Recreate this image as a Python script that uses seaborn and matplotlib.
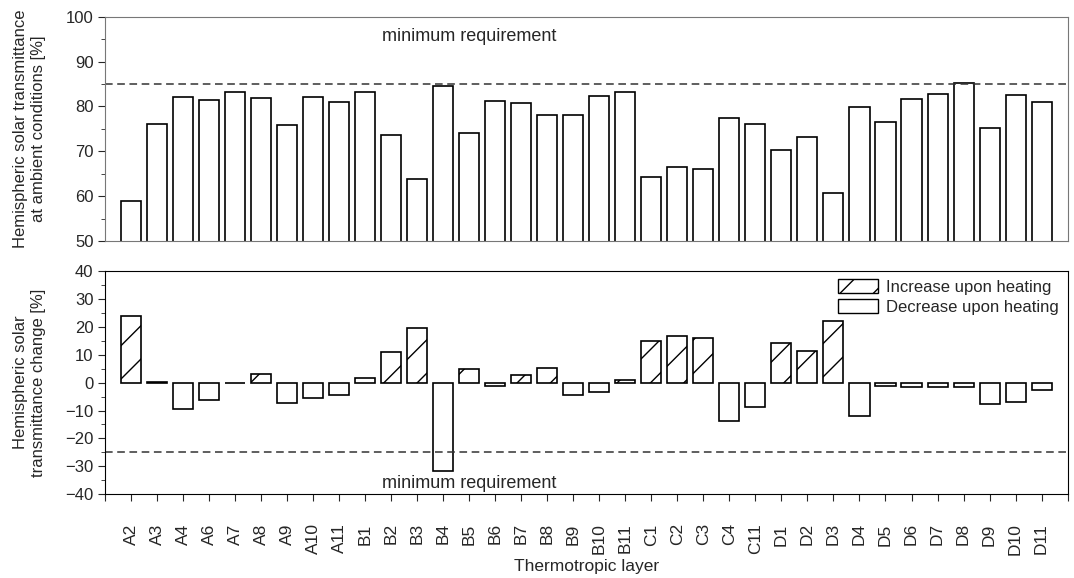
import matplotlib
matplotlib.use('Agg')
import matplotlib.pyplot as plt
from matplotlib.patches import Patch
from matplotlib.ticker import MultipleLocator
import seaborn as sns
import pandas as pd

# Werte
layers = ['A2', 'A3', 'A4', 'A6', 'A7', 'A8', 'A9', 'A10', 'A11',
          'B1', 'B2', 'B3', 'B4', 'B5', 'B6', 'B7', 'B8', 'B9', 'B10', 'B11',
          'C1', 'C2', 'C3', 'C4', 'C11',
          'D1', 'D2', 'D3', 'D4', 'D5', 'D6', 'D7', 'D8', 'D9', 'D10', 'D11']
ambient = [58.9, 76.1, 82.0, 81.5, 83.2, 81.8, 75.8, 82.0, 81.1,
           83.3, 73.6, 63.9, 84.5, 74.1, 81.3, 80.8, 78.2, 78.2, 82.3, 83.2,
           64.2, 66.5, 66.1, 77.5, 76.1,
           70.3, 73.3, 60.8, 79.9, 76.5, 81.6, 82.8, 85.3, 75.2, 82.6, 81.1]
change = [23.8, 0.3, -9.4, -6.2, -0.2, 3.2, -7.4, -5.6, -4.6,
          1.7, 11.1, 19.7, -31.6, 5.0, -1.1, 2.7, 5.3, -4.5, -3.5, 0.9,
          14.8, 16.9, 16.1, -13.7, -8.6,
          14.2, 11.3, 22.2, -12.1, -1.2, -1.7, -1.7, -1.4, -7.6, -7.1, -2.5]
req_top = 85
req_bottom = -25

df = pd.DataFrame({'layer': layers, 'ambient': ambient, 'change': change})

sns.set_style('ticks')
plt.rcParams['font.family'] = ['Liberation Sans', 'DejaVu Sans']
plt.rcParams['hatch.linewidth'] = 1.0

fig = plt.figure(figsize=(10.74, 5.78), dpi=100)
ax1 = fig.add_axes([0.098, 0.583, 0.896, 0.388])
ax2 = fig.add_axes([0.098, 0.145, 0.896, 0.386])

# oberes Diagramm
sns.barplot(data=df, x='layer', y='ambient', ax=ax1, color='white',
            edgecolor='black', linewidth=1.2, width=0.77, saturation=1)
ax1.axhline(req_top, color='#333333', ls=(0, (5, 3)), lw=1.1)
ax1.text(13, 95.7, 'minimum requirement', ha='center', va='center', fontsize=13)
ax1.set_ylim(50, 100)
ax1.set_xlim(-1, 36)
ax1.yaxis.set_major_locator(MultipleLocator(10))
ax1.yaxis.set_minor_locator(MultipleLocator(5))
ax1.set_xticks([])
ax1.set_xlabel('')
ax1.set_ylabel('Hemispheric solar transmittance\nat ambient conditions [%]', fontsize=12)
for s in ax1.spines.values():
    s.set_visible(True)
    s.set_color('#777777')

# unteres Diagramm
sns.barplot(data=df, x='layer', y='change', ax=ax2, color='white',
            edgecolor='black', linewidth=1.2, width=0.77, saturation=1)
for p, v in zip(ax2.patches, change):
    if v > 0:
        p.set_hatch('/')
ax2.axhline(req_bottom, color='#333333', ls=(0, (5, 3)), lw=1.1)
ax2.text(13, -36, 'minimum requirement', ha='center', va='center', fontsize=13)
ax2.set_ylim(-40, 40)
ax2.set_xlim(-1, 36)
ax2.yaxis.set_major_locator(MultipleLocator(10))
ax2.yaxis.set_minor_locator(MultipleLocator(5))
ax2.set_xticks(range(-1, 37))
ax2.set_xticklabels([''] + layers + [''], rotation=90, fontsize=12.5)
ax2.set_xlabel('Thermotropic layer', fontsize=12.5, labelpad=3)
ax2.set_ylabel('Hemispheric solar\ntransmittance change [%]', fontsize=12)
for s in ax2.spines.values():
    s.set_visible(True)
    s.set_color('black')

handles = [Patch(facecolor='white', edgecolor='black', hatch='/', label='Increase upon heating'),
           Patch(facecolor='white', edgecolor='black', label='Decrease upon heating')]
ax2.legend(handles=handles, loc='upper right', frameon=False, fontsize=12,
           handlelength=2.4, handleheight=0.9, borderaxespad=0.1,
           labelspacing=0.25, handletextpad=0.5)

for ax in (ax1, ax2):
    ax.tick_params(axis='y', which='major', direction='out', length=5, labelsize=12)
    ax.tick_params(axis='y', which='minor', direction='out', length=3)
    ax.tick_params(axis='x', direction='out', length=5, pad=16)
    ax.yaxis.set_label_coords(-0.062, 0.5)

fig.savefig('out.png', dpi=100)
